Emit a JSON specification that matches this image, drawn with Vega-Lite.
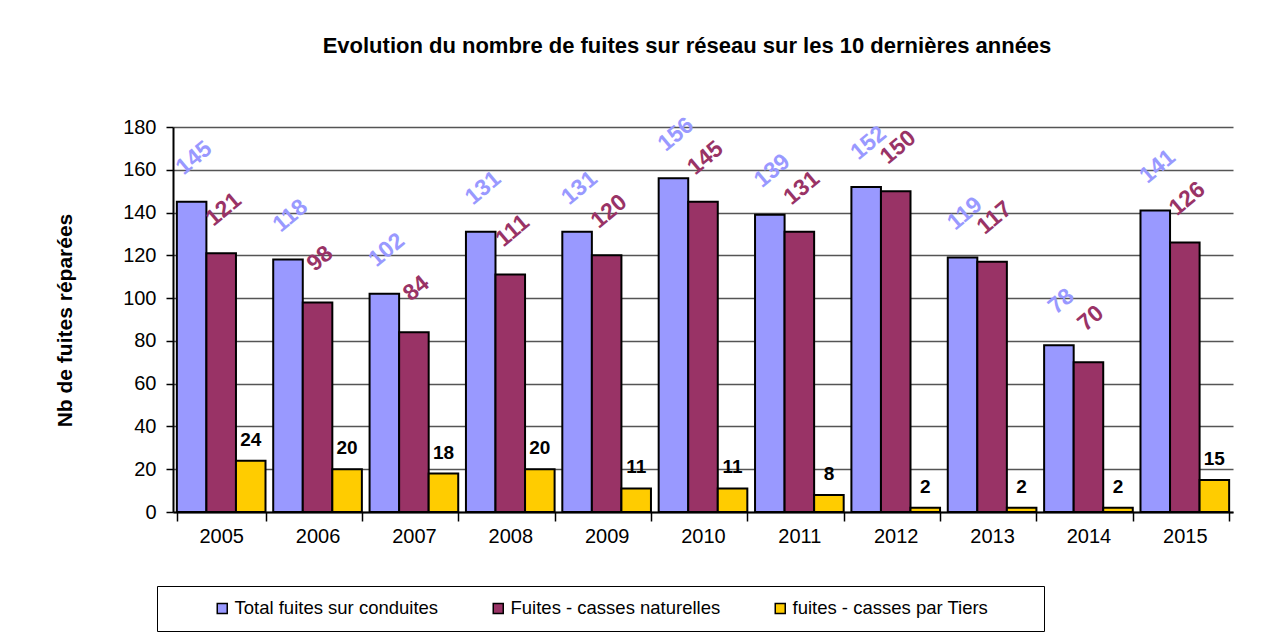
{
  "$schema": "https://vega.github.io/schema/vega-lite/v6.json",
  "width": 1060,
  "height": 385,
  "autosize": {"type": "none"},
  "padding": {"left": 173, "top": 127, "right": 28, "bottom": 125},
  "background": "white",
  "config": {
    "font": "Liberation Sans",
    "view": {"stroke": null}
  },
  "title": {
    "text": "Evolution du nombre de fuites sur réseau sur les 10 dernières années",
    "fontSize": 22,
    "fontWeight": "bold",
    "color": "black",
    "anchor": "middle",
    "dx": -16,
    "offset": 39,
    "baseline": "alphabetic"
  },
  "data": {
    "values": [
      {"year": "2005", "series": "Total fuites sur conduites", "value": 145},
      {"year": "2005", "series": "Fuites - casses naturelles", "value": 121},
      {"year": "2005", "series": "fuites - casses par Tiers", "value": 24},
      {"year": "2006", "series": "Total fuites sur conduites", "value": 118},
      {"year": "2006", "series": "Fuites - casses naturelles", "value": 98},
      {"year": "2006", "series": "fuites - casses par Tiers", "value": 20},
      {"year": "2007", "series": "Total fuites sur conduites", "value": 102},
      {"year": "2007", "series": "Fuites - casses naturelles", "value": 84},
      {"year": "2007", "series": "fuites - casses par Tiers", "value": 18},
      {"year": "2008", "series": "Total fuites sur conduites", "value": 131},
      {"year": "2008", "series": "Fuites - casses naturelles", "value": 111},
      {"year": "2008", "series": "fuites - casses par Tiers", "value": 20},
      {"year": "2009", "series": "Total fuites sur conduites", "value": 131},
      {"year": "2009", "series": "Fuites - casses naturelles", "value": 120},
      {"year": "2009", "series": "fuites - casses par Tiers", "value": 11},
      {"year": "2010", "series": "Total fuites sur conduites", "value": 156},
      {"year": "2010", "series": "Fuites - casses naturelles", "value": 145},
      {"year": "2010", "series": "fuites - casses par Tiers", "value": 11},
      {"year": "2011", "series": "Total fuites sur conduites", "value": 139},
      {"year": "2011", "series": "Fuites - casses naturelles", "value": 131},
      {"year": "2011", "series": "fuites - casses par Tiers", "value": 8},
      {"year": "2012", "series": "Total fuites sur conduites", "value": 152},
      {"year": "2012", "series": "Fuites - casses naturelles", "value": 150},
      {"year": "2012", "series": "fuites - casses par Tiers", "value": 2},
      {"year": "2013", "series": "Total fuites sur conduites", "value": 119},
      {"year": "2013", "series": "Fuites - casses naturelles", "value": 117},
      {"year": "2013", "series": "fuites - casses par Tiers", "value": 2},
      {"year": "2014", "series": "Total fuites sur conduites", "value": 78},
      {"year": "2014", "series": "Fuites - casses naturelles", "value": 70},
      {"year": "2014", "series": "fuites - casses par Tiers", "value": 2},
      {"year": "2015", "series": "Total fuites sur conduites", "value": 141},
      {"year": "2015", "series": "Fuites - casses naturelles", "value": 126},
      {"year": "2015", "series": "fuites - casses par Tiers", "value": 15}
    ]
  },
  "encoding": {
    "x": {
      "field": "year",
      "type": "nominal",
      "scale": {"paddingInner": 0.08, "paddingOuter": 0.04},
      "axis": {
        "title": null,
        "labelAngle": 0,
        "labelFontSize": 20,
        "labelColor": "black",
        "labelPadding": 5,
        "tickBand": "extent",
        "tickSize": 9,
        "tickColor": "black",
        "tickWidth": 1.5,
        "domainColor": "black",
        "domainWidth": 2
      }
    },
    "xOffset": {
      "field": "series",
      "type": "nominal",
      "sort": ["Total fuites sur conduites", "Fuites - casses naturelles", "fuites - casses par Tiers"],
      "scale": {"paddingInner": 0, "paddingOuter": 0}
    },
    "y": {
      "field": "value",
      "type": "quantitative",
      "scale": {"domain": [0, 180], "nice": false},
      "axis": {
        "values": [0, 20, 40, 60, 80, 100, 120, 140, 160, 180],
        "title": "Nb de fuites réparées",
        "titleFontSize": 21,
        "titleFontWeight": "bold",
        "titleColor": "black",
        "titleAngle": -90,
        "titleAlign": "center",
        "titleBaseline": "middle",
        "titleX": -108,
        "titleY": 193,
        "labelFontSize": 20,
        "labelColor": "black",
        "labelPadding": 10,
        "tickSize": 7,
        "tickColor": "black",
        "tickWidth": 1.5,
        "domainColor": "black",
        "domainWidth": 2,
        "grid": true,
        "gridColor": "#555555",
        "gridWidth": 1.5
      }
    }
  },
  "layer": [
    {
      "mark": {"type": "bar", "stroke": "black", "strokeWidth": 2},
      "encoding": {
        "color": {
          "field": "series",
          "type": "nominal",
          "sort": ["Total fuites sur conduites", "Fuites - casses naturelles", "fuites - casses par Tiers"],
          "scale": {
            "domain": ["Total fuites sur conduites", "Fuites - casses naturelles", "fuites - casses par Tiers"],
            "range": ["#9999FF", "#993366", "#FFCC00"]
          },
          "legend": {
            "orient": "none",
            "legendX": -16,
            "legendY": 459,
            "direction": "horizontal",
            "title": "\u00a0",
            "titleOrient": "left",
            "titlePadding": 43,
            "titleFontSize": 18,
            "padding": 13,
            "strokeColor": "black",
            "fillColor": "white",
            "symbolType": "square",
            "symbolSize": 100,
            "symbolStrokeColor": "black",
            "symbolStrokeWidth": 1.5,
            "symbolOpacity": 1,
            "labelFontSize": 18.5,
            "labelColor": "black",
            "labelOffset": 3,
            "labelLimit": 500,
            "columnPadding": 50,
            "labelExpr": "datum.label == 'fuites - casses par Tiers' ? datum.label + '\u2800\u2800\u2800' : datum.label"
          }
        }
      }
    },
    {
      "transform": [{"filter": "datum.series == 'Total fuites sur conduites'"}],
      "mark": {"type": "text", "angle": -40, "align": "center", "baseline": "middle", "dx": 30, "dy": -32, "fontSize": 23, "fontWeight": "bold", "color": "#9999FF"},
      "encoding": {"text": {"field": "value", "type": "quantitative"}}
    },
    {
      "transform": [{"filter": "datum.series == 'Fuites - casses naturelles'"}],
      "mark": {"type": "text", "angle": -40, "align": "center", "baseline": "middle", "dx": 30, "dy": -32, "fontSize": 23, "fontWeight": "bold", "color": "#993366"},
      "encoding": {"text": {"field": "value", "type": "quantitative"}}
    },
    {
      "transform": [{"filter": "datum.series == 'fuites - casses par Tiers'"}],
      "mark": {"type": "text", "align": "center", "baseline": "alphabetic", "dy": -15, "fontSize": 19, "fontWeight": "bold", "color": "black"},
      "encoding": {"text": {"field": "value", "type": "quantitative"}}
    }
  ]
}
